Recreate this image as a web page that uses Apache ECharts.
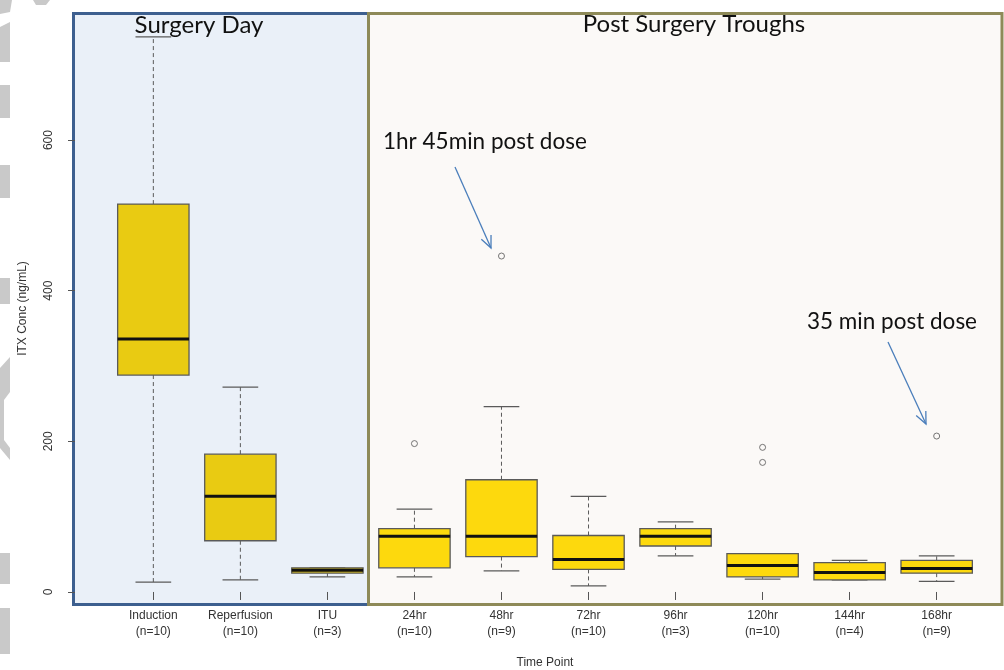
<!DOCTYPE html>
<html>
<head>
<meta charset="utf-8">
<script src="https://cdn.jsdelivr.net/npm/echarts@6/dist/echarts.min.js"></script>
<style>
html,body{margin:0;padding:0;background:#ffffff;}
#chart{width:1004px;height:670px;}
</style>
</head>
<body>
<div id="chart"></div>
<script>
// ---- data ----
const timePoints = ['Induction','Reperfusion','ITU','24hr','48hr','72hr','96hr','120hr','144hr','168hr'];
const sampleSizes = [10,10,3,10,9,10,3,10,4,9];
const phaseIndex = [0,0,0,1,1,1,1,1,1,1];
const lowerWhisker = [13,16,20,20,28,8,48,17,16,14];
const lowerQuartile = [288,68,25,32,47,30,61,20,16,25];
const medianValues = [336,127,29,74,74,43,74,35,26,31];
const upperQuartile = [515,183,32,84,149,75,84,51,39,42];
const upperWhisker = [737,272,32,110,246,127,93,51,42,48];
const outlierPosition = [4,5,8,8,10];
const outlierValues = [197,446,192,172,207];
const yTickValues = [0,200,400,600];
const panelTitles = ['Surgery Day','Post Surgery Troughs'];
const noteTexts = ['1hr 45min post dose','35 min post dose'];

const boxFill = ['#E9CB12','#FDD90D'];
const AXIS_FONT = "'Liberation Sans', Arial, sans-serif";
const NOTE_FONT = "Lato, 'Open Sans', sans-serif";

const boxData = timePoints.map((t,i)=>[i+1, lowerWhisker[i], lowerQuartile[i], medianValues[i], upperQuartile[i], upperWhisker[i], phaseIndex[i]]);
const outlierData = outlierPosition.map((p,i)=>[p, outlierValues[i]]);
const xPositions = timePoints.map((t,i)=>i+1);

function renderBox(params, api){
  const x = api.value(0);
  const lo = api.coord([x, api.value(1)]);
  const q1 = api.coord([x, api.value(2)]);
  const md = api.coord([x, api.value(3)]);
  const q3 = api.coord([x, api.value(4)]);
  const hi = api.coord([x, api.value(5)]);
  const w = api.size([0.82, 0])[0];
  const cx = md[0];
  const cap = w/4;
  const fill = boxFill[api.value(6)];
  const edge = '#5a5a5a';
  return {
    type:'group',
    children:[
      {type:'line', shape:{x1:cx,y1:q3[1],x2:cx,y2:hi[1]}, style:{stroke:edge,lineWidth:1,lineDash:[4,3]}},
      {type:'line', shape:{x1:cx,y1:q1[1],x2:cx,y2:lo[1]}, style:{stroke:edge,lineWidth:1,lineDash:[4,3]}},
      {type:'line', shape:{x1:cx-cap,y1:hi[1],x2:cx+cap,y2:hi[1]}, style:{stroke:edge,lineWidth:1.3}},
      {type:'line', shape:{x1:cx-cap,y1:lo[1],x2:cx+cap,y2:lo[1]}, style:{stroke:edge,lineWidth:1.3}},
      {type:'rect', shape:{x:cx-w/2,y:q3[1],width:w,height:q1[1]-q3[1]}, style:{fill:fill,stroke:edge,lineWidth:1.3}},
      {type:'line', shape:{x1:cx-w/2,y1:md[1],x2:cx+w/2,y2:md[1]}, style:{stroke:'#111',lineWidth:3}}
    ]
  };
}

function arrow(x1,y1,x2,y2){
  const a = Math.atan2(y2-y1, x2-x1);
  const L = 13, s = 0.42;
  return [
    {type:'line', z:50, shape:{x1:x1,y1:y1,x2:x2,y2:y2}, style:{stroke:'#4A7EBB',lineWidth:1.3}},
    {type:'polyline', z:50, shape:{points:[
      [x2-L*Math.cos(a-s), y2-L*Math.sin(a-s)],[x2,y2],[x2-L*Math.cos(a+s), y2-L*Math.sin(a+s)]]},
      style:{stroke:'#4A7EBB',lineWidth:1.3,fill:null}}
  ];
}

const gray = '#C9C9C9';
const decor = [
  {type:'polygon', z:-5, shape:{points:[[0,0],[12,0],[10,12],[0,14]]}, style:{fill:gray}},
  {type:'polygon', z:-5, shape:{points:[[33,0],[50,0],[46,5],[36,5]]}, style:{fill:gray}},
  {type:'polygon', z:-5, shape:{points:[[0,27],[10,22],[10,62],[0,62]]}, style:{fill:gray}},
  {type:'rect', z:-5, shape:{x:0,y:85,width:10,height:33}, style:{fill:gray}},
  {type:'rect', z:-5, shape:{x:0,y:165,width:10,height:33}, style:{fill:gray}},
  {type:'rect', z:-5, shape:{x:0,y:278,width:10,height:26}, style:{fill:gray}},
  {type:'polygon', z:-5, shape:{points:[[0,368],[10,357],[10,392],[4,400],[4,440],[10,448],[10,460],[0,448]]}, style:{fill:gray}},
  {type:'rect', z:-5, shape:{x:0,y:553,width:10,height:31}, style:{fill:gray}},
  {type:'rect', z:-5, shape:{x:0,y:608,width:10,height:46}, style:{fill:gray}}
];

const panels = [
  {type:'rect', z:-2, shape:{x:73.5,y:13.5,width:295,height:591}, style:{fill:'#EAF0F8',stroke:'#3D5F8F',lineWidth:3}},
  {type:'rect', z:-1, shape:{x:368.5,y:13.5,width:633.5,height:591}, style:{fill:'#FBF9F7',stroke:'#8E8A58',lineWidth:3}}
];

const texts = [
  {type:'text', z:60, x:199, y:25, style:{text:panelTitles[0], font:'24px '+NOTE_FONT, fill:'#111', align:'center', verticalAlign:'middle'}},
  {type:'text', z:60, x:694, y:24, style:{text:panelTitles[1], font:'24px '+NOTE_FONT, fill:'#111', align:'center', verticalAlign:'middle'}},
  {type:'text', z:60, x:383, y:142, style:{text:noteTexts[0], font:'22.5px '+NOTE_FONT, fill:'#111', align:'left', verticalAlign:'middle'}},
  {type:'text', z:60, x:807, y:322, style:{text:noteTexts[1], font:'22.5px '+NOTE_FONT, fill:'#111', align:'left', verticalAlign:'middle'}}
];

const chart = echarts.init(document.getElementById('chart'), null, {renderer:'canvas'});
chart.setOption({
  animation:false,
  backgroundColor:'#ffffff',
  grid:{left:75, right:-11, top:12, bottom:65, containLabel:false, outerBoundsMode:'none'},
  xAxis:{
    type:'value', min:0.1, max:10.9,
    name:'Time Point', nameLocation:'middle', nameGap:52,
    nameTextStyle:{fontFamily:AXIS_FONT, fontSize:12, color:'#333'},
    axisLine:{show:false},
    splitLine:{show:false},
    axisTick:{show:true, customValues:xPositions, length:8, lineStyle:{color:'#555'}},
    axisLabel:{customValues:xPositions, margin:3, fontFamily:AXIS_FONT, fontSize:12, color:'#333', lineHeight:16,
      formatter:function(v){const i=Math.round(v)-1; return timePoints[i]+'\n(n='+sampleSizes[i]+')';}}
  },
  yAxis:{
    type:'value', min:-17.3, max:770,
    name:'ITX Conc (ng/mL)', nameLocation:'middle', nameGap:46, nameRotate:90,
    nameTextStyle:{fontFamily:AXIS_FONT, fontSize:12, color:'#333'},
    axisLine:{show:false},
    splitLine:{show:false},
    axisTick:{show:true, customValues:yTickValues, length:7, lineStyle:{color:'#555'}},
    axisLabel:{customValues:yTickValues, rotate:90, margin:20, fontFamily:AXIS_FONT, fontSize:12, color:'#333'}
  },
  graphic:{elements: decor.concat(panels, texts, arrow(455,167,491,248), arrow(888,342,926,424))},
  series:[
    {type:'custom', renderItem:renderBox, data:boxData, encode:{x:0, y:[1,2,3,4,5]}, z:5},
    {type:'scatter', data:outlierData, symbol:'circle', symbolSize:6, z:6,
      itemStyle:{color:'rgba(0,0,0,0)', borderColor:'#555', borderWidth:1}}
  ]
});
</script>
</body>
</html>
